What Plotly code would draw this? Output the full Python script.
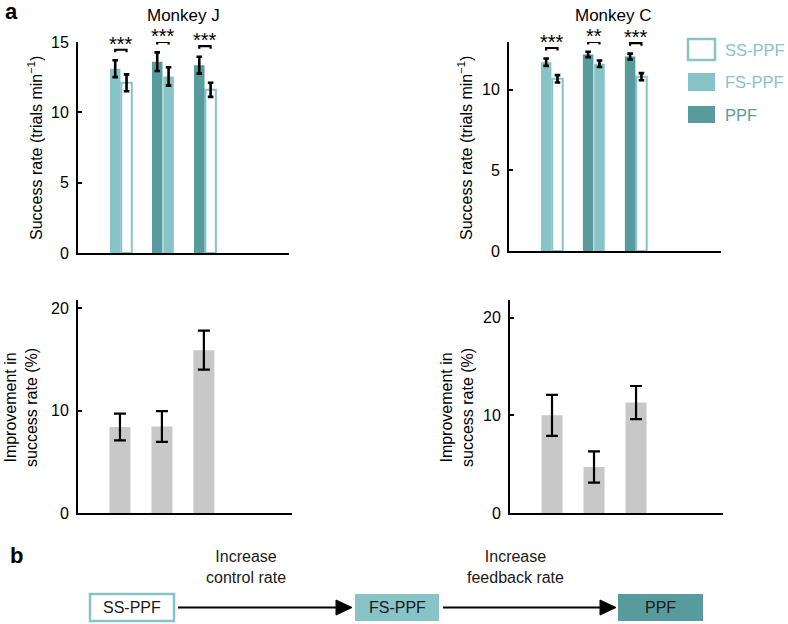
import plotly.graph_objects as go

# pairs compared in each monkey (left bar vs right bar)
pair_left = ["FS-PPF", "PPF", "PPF"]
pair_right = ["SS-PPF", "FS-PPF", "SS-PPF"]

# Monkey J success rate (trials / min)
j_left = [13.1, 13.6, 13.35]
j_left_err = [0.6, 0.66, 0.6]
j_right = [12.1, 12.55, 11.6]
j_right_err = [0.6, 0.65, 0.5]
j_sig = ["***", "***", "***"]

# Monkey C success rate (trials / min)
c_left = [11.7, 12.18, 12.05]
c_left_err = [0.23, 0.17, 0.18]
c_right = [10.67, 11.6, 10.8]
c_right_err = [0.23, 0.2, 0.22]
c_sig = ["***", "**", "***"]

# improvement in success rate (%)
j_impr = [8.4, 8.45, 15.9]
j_impr_err = [1.3, 1.5, 1.9]
c_impr = [10.0, 4.7, 11.3]
c_impr_err = [2.1, 1.6, 1.7]

conditions = ["SS-PPF", "FS-PPF", "PPF"]
flow_steps = ["Increase<br>control rate", "Increase<br>feedback rate"]

LIGHT = "#87c3c7"
DARK = "#579b9c"
GRAY = "#c8c8c8"
FONT = "Liberation Sans, Arial, Helvetica, sans-serif"
W, H = 788, 624

fill = {"SS-PPF": "white", "FS-PPF": LIGHT, "PPF": DARK}
edge = {"SS-PPF": LIGHT, "FS-PPF": LIGHT, "PPF": DARK}


def px(x):
    return x / W


def py(y):
    return 1 - y / H


def label(x, y, text, size=16, color="black", xanchor="center", angle=0):
    # text placed in figure pixels
    annotations.append(dict(x=px(x), y=py(y), xref="paper", yref="paper", text=text, showarrow=False,
                            xanchor=xanchor, yanchor="middle", textangle=angle,
                            font=dict(size=size, color=color, family=FONT)))


fig = go.Figure()
shapes = []
annotations = []


def success_panel(xa, ya, left, left_err, right, right_err, sig, yrange):
    bw = 0.25
    off = 0.135
    for cond in conditions:
        xs, ys, es = [], [], []
        for i in range(3):
            if pair_left[i] == cond:
                xs.append(i + 1 - off); ys.append(left[i]); es.append(left_err[i])
            if pair_right[i] == cond:
                xs.append(i + 1 + off); ys.append(right[i]); es.append(right_err[i])
        fig.add_trace(go.Bar(
            x=xs, y=ys, width=bw, xaxis=xa, yaxis=ya, name=cond,
            marker=dict(color=fill[cond], line=dict(color=edge[cond], width=2 if cond == "SS-PPF" else 0)),
            error_y=dict(type="data", array=es, color="black", thickness=2.6, width=2.8),
            showlegend=False, hoverinfo="y"))
    # significance brackets
    for i in range(3):
        top = max(left[i] + left_err[i], right[i] + right_err[i]) + 0.05 * yrange
        top = min(top, yrange)
        hook = 0.012 * yrange
        x0, x1 = i + 1 - off, i + 1 + off
        shapes.append(dict(type="path", xref=xa, yref=ya,
                           path=f"M {x0},{top - hook} L {x0},{top} L {x1},{top} L {x1},{top - hook}",
                           line=dict(color="black", width=2.2)))
        annotations.append(dict(x=i + 1, y=top, xref=xa, yref=ya, text=sig[i], showarrow=False,
                                xanchor="center", yanchor="bottom", yshift=-7,
                                font=dict(size=20, color="black", family=FONT)))


def improvement_panel(xa, ya, vals, errs):
    fig.add_trace(go.Bar(
        x=[1, 2, 3], y=vals, width=0.5, xaxis=xa, yaxis=ya,
        marker=dict(color=GRAY, line=dict(width=0)),
        error_y=dict(type="data", array=errs, color="black", thickness=2.2, width=6),
        showlegend=False, hoverinfo="y"))


success_panel("x", "y", j_left, j_left_err, j_right, j_right_err, j_sig, 15)
success_panel("x2", "y2", c_left, c_left_err, c_right, c_right_err, c_sig, 12.95)
improvement_panel("x3", "y3", j_impr, j_impr_err)
improvement_panel("x4", "y4", c_impr, c_impr_err)

xcommon = dict(showline=True, linecolor="black", linewidth=2, showticklabels=False, automargin=False,
               ticks="", showgrid=False, zeroline=False, fixedrange=True)
ycommon = dict(showline=True, linecolor="black", linewidth=2, ticks="inside", ticklen=4, automargin=False,
               tickwidth=1.5, tickcolor="black", showgrid=False, zeroline=False,
               tickfont=dict(size=16, color="black", family=FONT), ticklabelstandoff=4)

fig.update_layout(
    xaxis=dict(xcommon, domain=[px(78), px(289)], range=[-0.02, 5.0], anchor="y"),
    yaxis=dict(ycommon, domain=[py(253), py(42)], range=[0, 15], tickvals=[0, 5, 10, 15], anchor="x"),
    xaxis2=dict(xcommon, domain=[px(509), px(721)], range=[-0.02, 5.03], anchor="y2"),
    yaxis2=dict(ycommon, domain=[py(251), py(42)], range=[0, 12.95], tickvals=[0, 5, 10], anchor="x2"),
    xaxis3=dict(xcommon, domain=[px(78), px(292)], range=[0, 5.1], anchor="y3"),
    yaxis3=dict(ycommon, domain=[py(513), py(300)], range=[0, 20.8], tickvals=[0, 10, 20], anchor="x3"),
    xaxis4=dict(xcommon, domain=[px(510), px(723)], range=[0, 5.07], anchor="y4"),
    yaxis4=dict(ycommon, domain=[py(513), py(300)], range=[0, 21.8], tickvals=[0, 10, 20], anchor="x4"),
)

# axis titles
label(35, 148, "Success rate (trials min<sup>−1</sup>)", angle=-90)
label(465, 148, "Success rate (trials min<sup>−1</sup>)", angle=-90)
label(21, 408, "Improvement in<br>success rate (%)", angle=-90)
label(457, 408, "Improvement in<br>success rate (%)", angle=-90)

# panel titles and letters
label(183, 15, "Monkey J", size=17)
label(613, 15, "Monkey C", size=17)
label(3, 11, "<b>a</b>", size=22, xanchor="left")
label(8, 555, "<b>b</b>", size=22, xanchor="left")

# legend
leg_y = [(39, 60), (73, 91), (106, 123)]
for cond, (y0, y1) in zip(conditions, leg_y):
    shapes.append(dict(type="rect", xref="paper", yref="paper", x0=px(688), x1=px(715), y0=py(y1), y1=py(y0),
                       fillcolor=fill[cond], line=dict(color=edge[cond], width=2.5 if cond == "SS-PPF" else 0)))
    label(723, (y0 + y1) / 2, cond, size=16.5, color=DARK if cond == "PPF" else LIGHT, xanchor="left")

# panel b flow diagram
boxes = [(90, 174), (355, 439), (618, 703)]
for cond, (x0, x1) in zip(conditions, boxes):
    shapes.append(dict(type="rect", xref="paper", yref="paper", x0=px(x0), x1=px(x1), y0=py(621), y1=py(594),
                       fillcolor=fill[cond], line=dict(color=edge[cond], width=2.5 if cond == "SS-PPF" else 0)))
    label((x0 + x1) / 2, 607.5, cond, size=16, color="#1a1a1a")
ay = 607.5
for step, (xs, xe, tc) in zip(flow_steps, [(178, 352, 246), (443, 616, 515)]):
    head = 16
    shapes.append(dict(type="line", xref="paper", yref="paper", x0=px(xs), x1=px(xe - head + 2),
                       y0=py(ay), y1=py(ay), line=dict(color="black", width=2.2)))
    shapes.append(dict(type="path", xref="paper", yref="paper",
                       path=f"M {px(xe - head)},{py(ay - 7.5)} L {px(xe)},{py(ay)} L {px(xe - head)},{py(ay + 7.5)} Z",
                       fillcolor="black", line=dict(color="black", width=1)))
    label(tc, 566.5, step, size=16, color="#1a1a1a")

fig.update_layout(
    width=W, height=H, margin=dict(l=0, r=0, t=0, b=0),
    paper_bgcolor="white", plot_bgcolor="white",
    barmode="overlay", showlegend=False,
    shapes=shapes, annotations=annotations,
    font=dict(family=FONT, color="black"),
)

# page body has a default margin; drop it so the figure fills the window exactly
fig.write_html("out.html", config={"displayModeBar": False},
               post_script="document.body.style.margin='0';")
